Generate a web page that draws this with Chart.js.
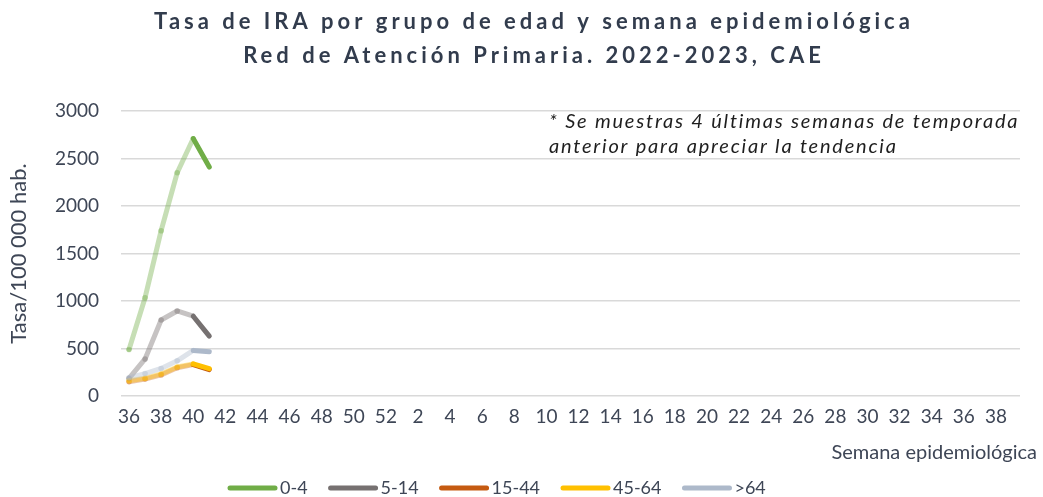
<!DOCTYPE html>
<html lang="es">
<head>
  <meta charset="UTF-8">
  <title>Tasa de IRA por grupo de edad</title>
  <script src="https://cdn.jsdelivr.net/npm/chart.js"></script>
  <style>
    html, body { margin: 0; padding: 0; background: #fff; }
    #wrap { width: 1043px; height: 497px; }
  </style>
</head>
<body>
  <div id="wrap"><canvas id="iraChart"></canvas></div>
  <script>
    // semanas 36-52 de 2022 y 1-39 de 2023
    const weeks = ['36','37','38','39','40','41','42','43','44','45','46','47','48','49','50','51','52',
      '1','2','3','4','5','6','7','8','9','10','11','12','13','14','15','16','17','18','19','20',
      '21','22','23','24','25','26','27','28','29','30','31','32','33','34','35','36','37','38','39'];

    const groups = ['0-4', '5-14', '15-44', '45-64', '>64'];
    const rate0_4   = [490, 1035, 1740, 2350, 2710, 2410];
    const rate5_14  = [185, 390, 800, 895, 840, 630];
    const rate15_44 = [150, 178, 222, 298, 330, 278];
    const rate45_64 = [160, 186, 232, 306, 338, 288];
    const rateOver64 = [192, 236, 290, 370, 480, 465];

    const solid = ['#70AD47', '#767171', '#C55A11', '#FFC000', '#ADB9CA'];
    const faded = ['rgba(112,173,71,0.4)', 'rgba(118,113,113,0.42)', 'rgba(197,90,17,0.35)',
      'rgba(255,192,0,0.4)', 'rgba(173,185,202,0.4)'];

    const textColor = '#3E4656';
    const FONT = 'Lato, "Open Sans", sans-serif';

    const series = [rate0_4, rate5_14, rate15_44, rate45_64, rateOver64];
    const datasets = series.map((vals, i) => ({
      label: groups[i],
      data: vals,
      borderColor: solid[i],
      backgroundColor: solid[i],
      borderWidth: 5,
      borderCapStyle: 'round',
      borderJoinStyle: 'round',
      tension: 0,
      order: 4 - i,
      pointRadius: ctx => ctx.dataIndex < 4 ? 2.8 : 0,
      pointBackgroundColor: faded[i],
      pointBorderWidth: 0,
      pointHoverRadius: 0,
      segment: {
        borderColor: ctx => ctx.p0DataIndex >= 4 ? solid[i] : faded[i]
      }
    }));

    const textPlugin = {
      id: 'extraText',
      afterDraw(chart) {
        const ctx = chart.ctx;
        ctx.save();
        // titulo
        ctx.fillStyle = '#323C4D';
        ctx.textAlign = 'center';
        ctx.textBaseline = 'middle';
        ctx.font = 'bold 22px ' + FONT;
        ctx.letterSpacing = '4px';
        ctx.fillText('Tasa de IRA por grupo de edad y semana epidemiológica', 534, 22);
        ctx.fillText('Red de Atención Primaria. 2022-2023, CAE', 534, 56);
        // nota
        ctx.fillStyle = '#1E1E1E';
        ctx.textAlign = 'left';
        ctx.font = 'italic 20px ' + FONT;
        ctx.letterSpacing = '1.8px';
        ctx.fillText('* Se muestras 4 últimas semanas de temporada', 549, 122);
        ctx.fillText('anterior para apreciar la tendencia', 549, 147);
        // titulo eje x
        ctx.letterSpacing = '0px';
        ctx.fillStyle = textColor;
        ctx.textAlign = 'right';
        ctx.font = '20px ' + FONT;
        ctx.fillText('Semana epidemiológica', 1037, 453);
        // leyenda
        ctx.font = '18px ' + FONT;
        ctx.textAlign = 'left';
        ctx.lineCap = 'round';
        ctx.lineWidth = 5;
        let x = 230;
        const y = 488;
        groups.forEach((g, i) => {
          ctx.strokeStyle = solid[i];
          ctx.beginPath();
          ctx.moveTo(x, y);
          ctx.lineTo(x + 45, y);
          ctx.stroke();
          ctx.fillStyle = textColor;
          ctx.fillText(g, x + 50, y);
          x += 52 + ctx.measureText(g).width + 21;
        });
        ctx.restore();
      }
    };

    new Chart(document.getElementById('iraChart'), {
      type: 'line',
      data: { labels: weeks, datasets: datasets },
      plugins: [textPlugin],
      options: {
        responsive: true,
        maintainAspectRatio: false,
        animation: false,
        layout: { padding: { top: 111, right: 23, left: 0, bottom: 0 } },
        plugins: {
          title: { display: false },
          tooltip: { enabled: false },
          legend: { display: false }
        },
        scales: {
          x: {
            offset: true,
            grid: { display: false, drawTicks: false },
            border: { display: false },
            afterFit: s => { s.height = 101; },
            ticks: {
              autoSkip: false,
              maxRotation: 0,
              padding: 9,
              color: textColor,
              font: { family: FONT, size: 19 },
              callback: function (v, i) { return i % 2 === 0 ? this.getLabelForValue(v) : ''; }
            }
          },
          y: {
            min: 0,
            max: 3000,
            afterFit: s => { s.width = 121; },
            grid: { color: '#D9D9D9', lineWidth: 1.5, drawTicks: false },
            border: { display: false },
            ticks: {
              stepSize: 500,
              padding: 22,
              color: textColor,
              font: { family: FONT, size: 19 },
              callback: v => String(v)
            },
            title: {
              display: true,
              text: 'Tasa/100 000 hab.',
              color: textColor,
              font: { family: FONT, size: 22 },
              padding: { top: 6, bottom: 0 }
            }
          }
        }
      }
    });
  </script>
</body>
</html>
